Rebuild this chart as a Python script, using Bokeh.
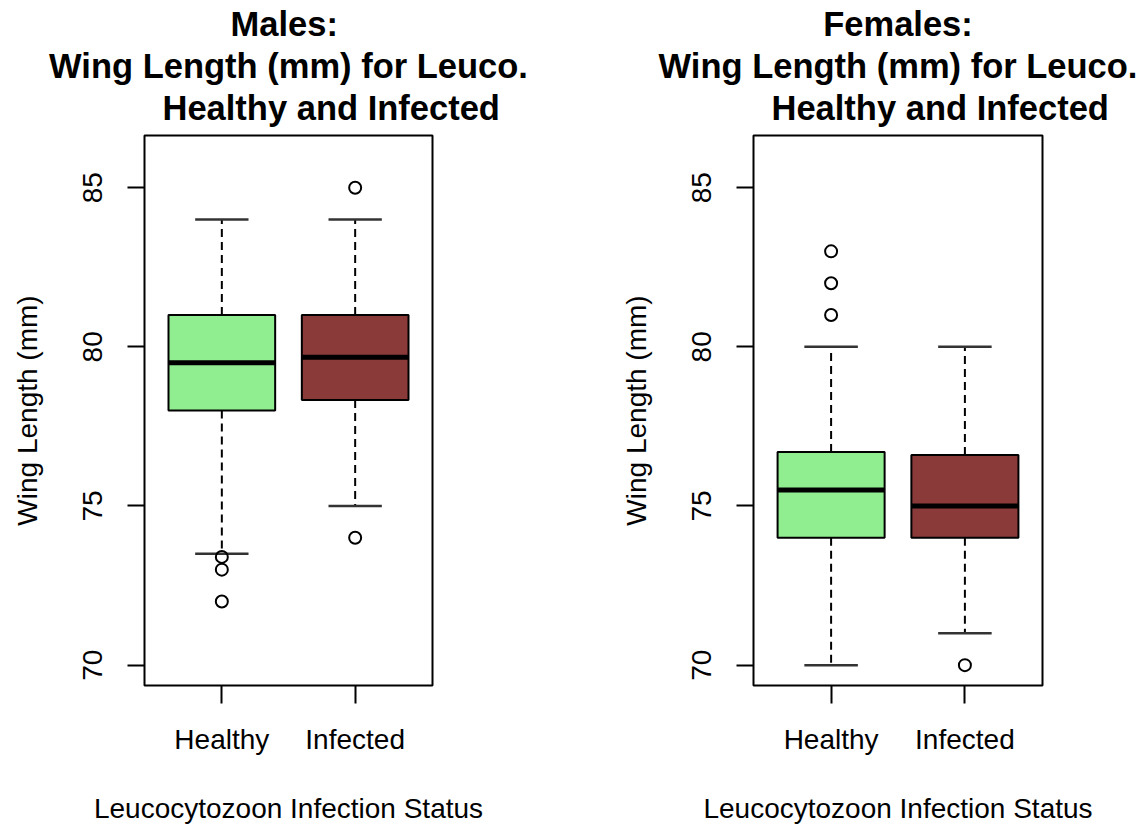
from bokeh.plotting import figure
from bokeh.models import FixedTicker, Title, Range1d
from bokeh.layouts import row
from bokeh.embed import file_html
from bokeh.resources import INLINE

# ---------------- data ----------------
categories = ["Healthy", "Infected"]
box_colors = ["#90EE90", "#8B3A3A"]
yticks = [70, 75, 80, 85]
y_limits = [70, 86]

male_lo = [73.5, 75.0]
male_q1 = [78.0, 78.33]
male_med = [79.5, 79.67]
male_q3 = [81.0, 81.0]
male_hi = [84.0, 84.0]
male_out_cat = ["Healthy", "Healthy", "Healthy", "Infected", "Infected"]
male_out_val = [73.4, 73.0, 72.0, 85.0, 74.0]

female_lo = [70.0, 71.0]
female_q1 = [74.0, 74.0]
female_med = [75.5, 75.0]
female_q3 = [76.7, 76.6]
female_hi = [80.0, 80.0]
female_out_cat = ["Healthy", "Healthy", "Healthy", "Infected"]
female_out_val = [83.0, 82.0, 81.0, 70.0]

x_title = "Leucocytozoon Infection Status"
y_title = "Wing Length (mm)"

FONT = "Liberation Sans"
BASE = "28px"
TITLE_SIZE = "34.5px"


def make_panel(sex, lo, q1, med, q3, hi, out_cat, out_val, left, right, frame_w, first_offset):
    n = len(categories)
    xs = [i + 1 for i in range(n)]
    pad_y = (y_limits[1] - y_limits[0]) * 0.04
    pad_x = n * 0.04
    p = figure(frame_width=frame_w, frame_height=550,
               x_range=Range1d(0.5 - pad_x, n + 0.5 + pad_x),
               y_range=Range1d(y_limits[0] - pad_y, y_limits[1] + pad_y),
               output_backend="svg", toolbar_location=None, title=None,
               min_border_left=left, min_border_right=right,
               min_border_top=135, min_border_bottom=138)
    p.background_fill_color = "white"
    p.border_fill_color = "white"
    p.xgrid.visible = False
    p.ygrid.visible = False
    p.outline_line_color = "black"
    p.outline_line_width = 2
    p.outline_line_alpha = 1.0

    # whiskers
    p.segment(x0=xs, y0=q3, x1=xs, y1=hi, line_color="black", line_width=2, line_dash="8 5")
    p.segment(x0=xs, y0=q1, x1=xs, y1=lo, line_color="black", line_width=2, line_dash="8 5")
    # staples
    p.segment(x0=[x - 0.2 for x in xs], y0=hi, x1=[x + 0.2 for x in xs], y1=hi,
              line_color="#333333", line_width=2.5)
    p.segment(x0=[x - 0.2 for x in xs], y0=lo, x1=[x + 0.2 for x in xs], y1=lo,
              line_color="#333333", line_width=2.5)
    # boxes
    p.vbar(x=xs, width=0.8, bottom=q1, top=q3, fill_color=box_colors,
           line_color="black", line_width=2)
    # medians
    p.segment(x0=[x - 0.4 for x in xs], y0=med, x1=[x + 0.4 for x in xs], y1=med,
              line_color="black", line_width=5)
    # outliers
    ox = [categories.index(c) + 1 for c in out_cat]
    p.scatter(x=ox, y=out_val, marker="circle", size=12, fill_color=None,
              line_color="black", line_width=2)

    # axes
    for ax in (p.xaxis[0], p.yaxis[0]):
        ax.axis_line_color = None
        ax.major_tick_line_color = "black"
        ax.major_tick_line_width = 2
        ax.major_tick_in = 0
        ax.minor_tick_line_color = None
        ax.major_label_text_font = FONT
        ax.major_label_text_font_size = BASE
        ax.major_label_text_color = "black"
        ax.axis_label_text_font = FONT
        ax.axis_label_text_font_size = BASE
        ax.axis_label_text_font_style = "normal"
        ax.axis_label_text_color = "black"
    p.yaxis.ticker = FixedTicker(ticks=yticks)
    p.yaxis.major_label_orientation = "vertical"
    p.yaxis.major_tick_out = 17
    p.yaxis.major_label_standoff = 25
    p.yaxis.axis_label = y_title
    p.yaxis.axis_label_standoff = 38

    p.xaxis.ticker = FixedTicker(ticks=xs)
    p.xaxis.major_label_overrides = {x: c for x, c in zip(xs, categories)}
    p.xaxis.major_tick_out = 18
    p.xaxis.major_label_standoff = 20
    p.xaxis.axis_label = x_title
    p.xaxis.axis_label_standoff = 35

    lines = [sex + ":", "Wing Length (mm) for Leuco.", "Healthy and Infected"]
    common = dict(text_font=FONT, text_font_size=TITLE_SIZE, text_font_style="bold",
                  text_color="black", standoff=2)
    spacer = Title(text=" ", text_font=FONT, text_font_size="1px", standoff=5)
    t3 = Title(text=lines[2], align="left", offset=18, **common)
    t2 = Title(text=lines[1], align="center", **common)
    if first_offset is None:
        t1 = Title(text=lines[0], align="center", **common)
    else:
        t1 = Title(text=lines[0], align="left", offset=first_offset, **common)
    p.add_layout(spacer, "above")
    p.add_layout(t3, "above")
    p.add_layout(t2, "above")
    p.add_layout(t1, "above")
    return p


p1 = make_panel("Males", male_lo, male_q1, male_med, male_q3, male_hi,
                male_out_cat, male_out_val, 144, 168, 288, 86)
p2 = make_panel("Females", female_lo, female_q1, female_med, female_q3, female_hi,
                female_out_cat, female_out_val, 153, 102, 289, None)

layout = row(p1, p2)
open("out.html", "w").write(file_html(layout, INLINE))
